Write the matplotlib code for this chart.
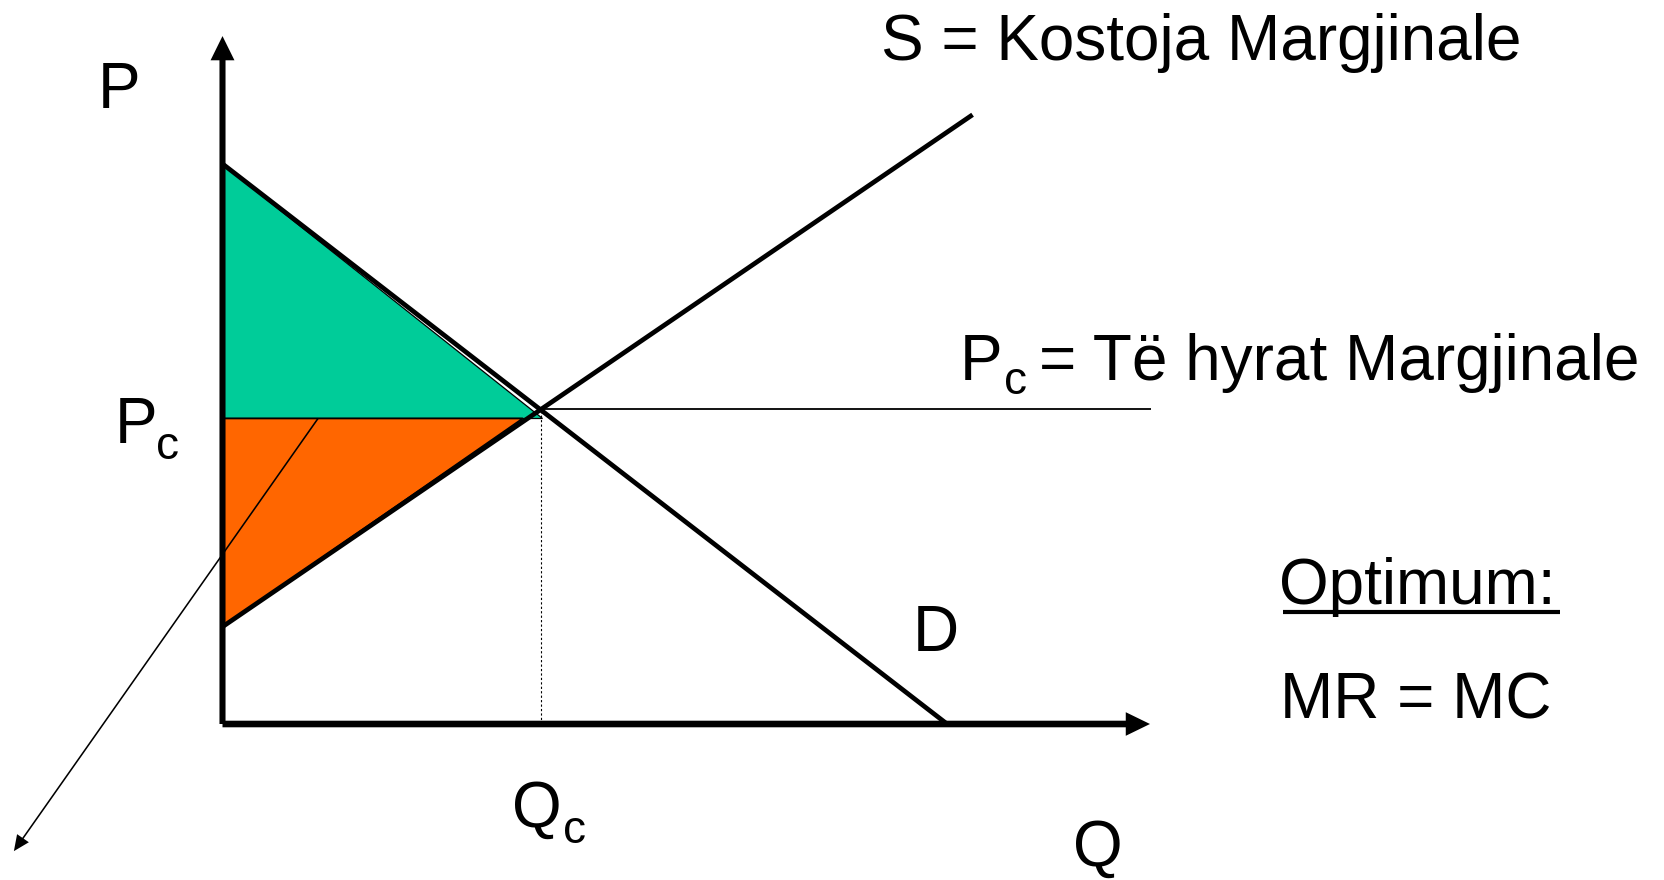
import matplotlib
matplotlib.use("Agg")
import matplotlib.pyplot as plt
from matplotlib.lines import Line2D

plt.rcParams['font.family'] = ['Liberation Sans', 'DejaVu Sans']

# ---------------- data (model units: Q on x, P on y) ----------------
Q_C = 10.0
P_C = 10.0
demand_q = [0.0, 22.75]
demand_p = [17.8, 0.0]
supply_q = [0.0, 23.55]
supply_p = [3.09, 19.36]
pc_line_q = [10.0, 29.15]
pc_line_p = [10.0, 10.0]
# consumer surplus (green) and producer surplus (orange) regions
cs_q = [0.0, 0.0, 10.02]
cs_p = [17.78, 9.71, 9.71]
ps_q = [0.0, 9.43, 0.0]
ps_p = [9.71, 9.71, 3.09]
# thin auxiliary arrow line
aux_q = [3.0, -6.55]
aux_p = [9.71, -4.04]
# axis extents
axis_q_max = 29.12
axis_p_max = 21.86

GREEN = '#00CC99'
ORANGE = '#FF6600'

W, H = 1664, 880
fig = plt.figure(figsize=(W / 100, H / 100), dpi=100)
fig.patch.set_facecolor('white')
ax = fig.add_axes([0, 0, 1, 1])
# pixel mapping: x_px = 222.5 + 31.85*Q ; y_px = 724 - 31.47*P
x0, sx = 222.5, 31.85
y0, sy = 724.0, 31.47
ax.set_xlim(-x0 / sx, (W - x0) / sx)
ax.set_ylim((y0 - H) / sy, y0 / sy)
ax.axis('off')

# filled regions
ax.fill(cs_q, cs_p, facecolor=GREEN, edgecolor='black', linewidth=0.9, zorder=2)
ax.fill(ps_q, ps_p, facecolor=ORANGE, edgecolor='black', linewidth=1.3, zorder=2)

# dotted Qc line
ax.plot([Q_C, Q_C], [0, P_C], color='black', linewidth=0.8,
        linestyle=(0, (2, 2)), zorder=3)

# Pc = MR line
ax.plot(pc_line_q, pc_line_p, color='black', linewidth=1.3,
        solid_capstyle='butt', zorder=3)

# demand and supply
ax.plot(demand_q, demand_p, color='black', linewidth=3.4,
        solid_capstyle='butt', zorder=4)
ax.plot(supply_q, supply_p, color='black', linewidth=3.4,
        solid_capstyle='butt', zorder=4)

# thin auxiliary arrow
ax.arrow(aux_q[0], aux_p[0], aux_q[1] - aux_q[0], aux_p[1] - aux_p[0],
         width=0.05, head_width=0.45, head_length=0.5,
         length_includes_head=True, fc='black', ec='none', zorder=3)

# axes with arrowheads
ax.arrow(0, 0, 0, axis_p_max, width=0.19, head_width=0.75, head_length=0.77,
         length_includes_head=True, fc='black', ec='none', zorder=5)
ax.arrow(0, 0, axis_q_max, 0, width=0.21, head_width=0.75, head_length=0.76,
         length_includes_head=True, fc='black', ec='none', zorder=5)

# ---------------- text ----------------
FS = 46
FS_SUB = 33


def ftext(xp, yp, s, size=FS, **kw):
    fig.text(xp / W, 1 - yp / H, s, fontsize=size, ha='left', va='baseline',
             color='black', **kw)


ftext(97.5, 108.5, 'P')
ftext(114.5, 443.3, 'P')
ftext(155.5, 459, 'c', size=FS_SUB)
ftext(881, 60, 'S = Kostoja Margjinale')
ftext(960, 380, 'P')
ftext(1004, 394, 'c', size=FS_SUB)
ftext(1039, 380, '= Të hyrat Margjinale')
ftext(912.5, 651, 'D')
ftext(1279.5, 604, 'Optimum:')
fig.add_artist(Line2D([1282.5 / W, 1560 / W], [1 - 612 / H, 1 - 612 / H],
                      transform=fig.transFigure, color='black', linewidth=3,
                      solid_capstyle='butt'))
ftext(1280, 718.3, 'MR = MC')
ftext(512, 826.7, 'Q')
ftext(563, 843, 'c', size=FS_SUB)
ftext(1073, 866, 'Q')

fig.savefig('out.png', dpi=100, facecolor='white')
